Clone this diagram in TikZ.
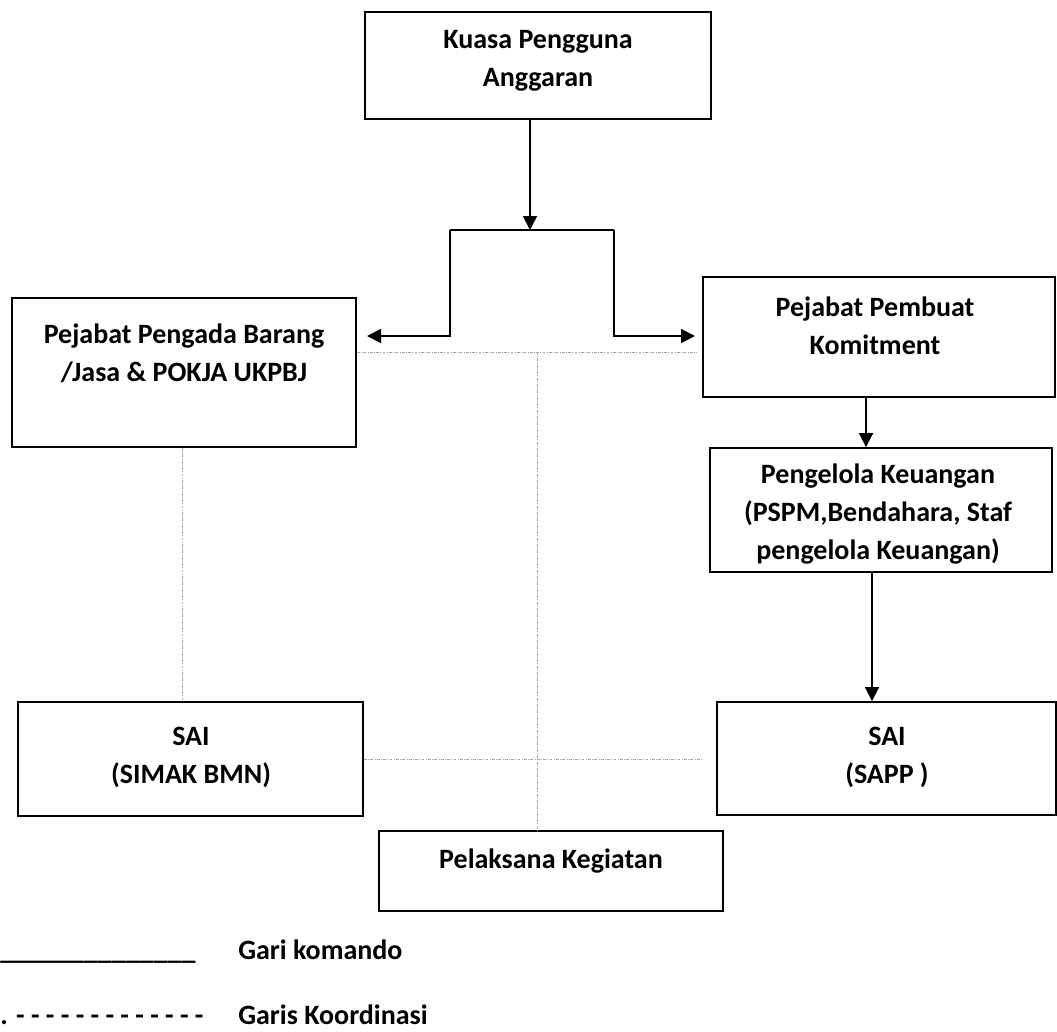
\documentclass[tikz,border=0pt]{standalone}
\usepackage{fontspec}
\setmainfont{Carlito}
\usetikzlibrary{arrows.meta}
\begin{document}
\begin{tikzpicture}[x=0.75pt,y=-0.75pt,
  box/.style={draw, line width=1.4pt, inner sep=0pt},
  txt/.style={font=\fontsize{21}{28.5}\selectfont\bfseries, align=center, inner sep=0pt},
  lgd/.style={font=\fontsize{21}{28.5}\selectfont\bfseries, inner sep=0pt, anchor=base west},
  cmd/.style={line width=1.4pt},
  arr/.style={cmd, -{Triangle[length=10.5pt,width=10.5pt]}},
  coord/.style={black!35, line width=0.75pt, dash pattern=on 2.2pt off 1pt on 0.6pt off 1pt}]
\useasboundingbox (0,0) rectangle (1057,1032);

% boxes
\node[box, minimum width={346*0.75pt}, minimum height={107*0.75pt}] (kpa) at (538,65.5) {};
\node[box, minimum width={344*0.75pt}, minimum height={149*0.75pt}] (ppbj) at (184,372.5) {};
\node[box, minimum width={352*0.75pt}, minimum height={120*0.75pt}] (ppk) at (879,337) {};
\node[box, minimum width={342*0.75pt}, minimum height={124*0.75pt}] (pk) at (881,510) {};
\node[box, minimum width={345*0.75pt}, minimum height={114*0.75pt}] (sail) at (190.5,759) {};
\node[box, minimum width={339*0.75pt}, minimum height={113*0.75pt}] (sair) at (886.5,758.5) {};
\node[box, minimum width={344*0.75pt}, minimum height={80*0.75pt}] (pel) at (551,871) {};

% texts
\node[txt] (kpat) at (538,60.5) {Kuasa Pengguna\\Anggaran};
\node[txt] (ppbjt) at (184,353) {Pejabat Pengada Barang\\/Jasa \& POKJA UKPBJ};
\node[txt] (ppkt) at (875,326) {Pejabat Pembuat\\Komitment};
\node[txt] (pkt) at (878,514.5) {Pengelola Keuangan\\(PSPM,Bendahara, Staf\\pengelola Keuangan)};
\node[txt] (sailt) at (191,757) {SAI\\(SIMAK BMN)};
\node[txt] (sairt) at (887,757) {SAI\\(SAPP )};
\node[txt] (pelt) at (551,861) {Pelaksana Kegiatan};

% command lines
\coordinate (j) at (530,230);
\coordinate (jl) at (450,230);
\coordinate (jr) at (614,230);
\coordinate (tl) at (367,336);
\coordinate (tr) at (695,336);
\coordinate (c1) at (866,420);
\coordinate (c2) at (872,640);
\draw[arr] (kpa.south -| j) -- (j);
\draw[cmd] (jl) -- (jr);
\draw[arr] (jl) |- (tl);
\draw[arr] (jr) |- (tr);
\draw[arr] (ppk.south -| c1) -- (pk.north -| c1);
\draw[arr] (pk.south -| c2) -- (sair.north -| c2);

% coordination lines
\coordinate (h1) at (697,352);
\coordinate (v1) at (537,352);
\coordinate (v2) at (182,600);
\coordinate (h2) at (703,759);
\draw[coord] (ppbj.east |- h1) -- (h1);
\draw[coord] (v1) -- (pel.north -| v1);
\draw[coord] (ppbj.south -| v2) -- (sail.north -| v2);
\draw[coord] (sail.east |- h2) -- (h2);

% legend
\node[lgd] (lg1) at (0,959) {\_\_\_\_\_\_\_\_\_\_\_\_\_\_};
\node[lgd] (lg1t) at (238,959) {Gari komando};
\node[lgd] (lg2) at (0,1024) {. - - - - - - - - - - - - -};
\node[lgd] (lg2t) at (238,1024) {Garis Koordinasi};
\end{tikzpicture}
\end{document}
